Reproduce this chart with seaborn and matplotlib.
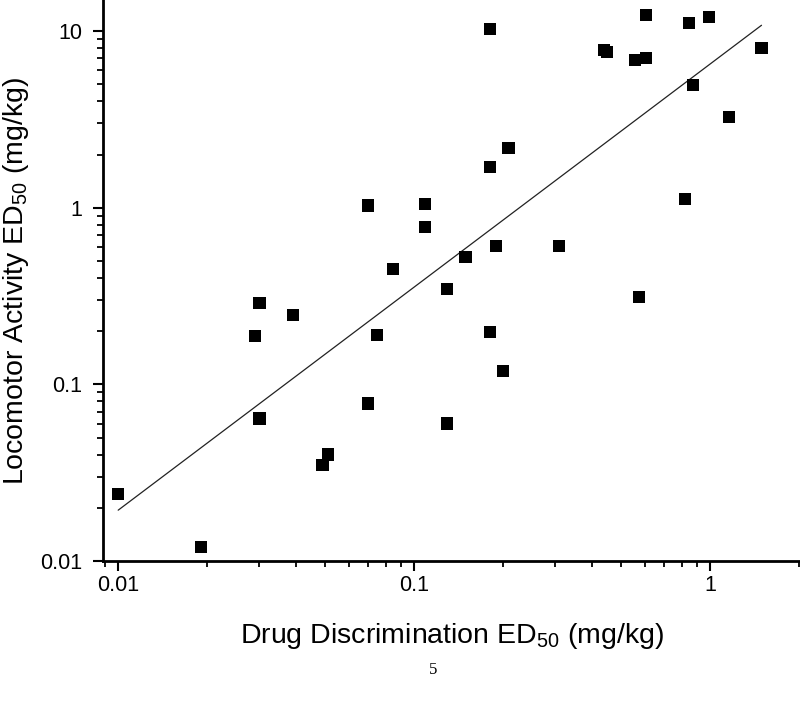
import matplotlib
matplotlib.use("Agg")
import matplotlib.pyplot as plt
import numpy as np
import pandas as pd
import seaborn as sns
from matplotlib.ticker import LogLocator, FuncFormatter, NullFormatter

# ── Data (mg/kg) ────────────────────────────────────────────────────────
drug_discrimination = [
    0.010, 0.019, 0.029, 0.030, 0.030, 0.039, 0.049, 0.051, 0.070, 0.070,
    0.075, 0.085, 0.109, 0.109, 0.129, 0.129, 0.149, 0.180, 0.180, 0.180,
    0.189, 0.199, 0.208, 0.309, 0.438, 0.448, 0.557, 0.574, 0.607, 0.607,
    0.820, 0.847, 0.873, 0.989, 1.156, 1.490,
]
locomotor_activity = [
    0.024, 0.012, 0.188, 0.288, 0.064, 0.247, 0.035, 0.040, 0.078, 1.03,
    0.190, 0.449, 1.05, 0.776, 0.060, 0.346, 0.525, 10.25, 1.70, 0.198,
    0.607, 0.119, 2.17, 0.607, 7.80, 7.60, 6.84, 0.312, 12.3, 7.03,
    1.12, 11.09, 4.94, 11.99, 3.26, 8.0,
]

x_ticks = [0.01, 0.1, 1]
y_ticks = [0.01, 0.1, 1, 10]

df = pd.DataFrame({"dd": drug_discrimination, "la": locomotor_activity})

sns.set_theme(style="ticks")
plt.rcParams["font.family"] = ["Liberation Sans", "DejaVu Sans"]
plt.rcParams["mathtext.fontset"] = "custom"
plt.rcParams["mathtext.rm"] = "Liberation Sans"
plt.rcParams["mathtext.default"] = "regular"

fig = plt.figure(figsize=(8, 7.02), dpi=100)
ax = fig.add_axes([0.129, 0.2009, 0.871, 0.7991])

sns.scatterplot(data=df, x="dd", y="la", marker="s", s=78, color="black",
                edgecolor="none", linewidth=0, ax=ax, zorder=3)

# log-log linear fit, drawn across the data range
slope, intercept = np.polyfit(np.log10(df["dd"]), np.log10(df["la"]), 1)
fit_x = np.array([df["dd"].min(), df["dd"].max()])
fit_y = 10 ** (intercept + slope * np.log10(fit_x))
sns.lineplot(x=fit_x, y=fit_y, color="#222222", linewidth=0.9, ax=ax)

ax.set_xscale("log")
ax.set_yscale("log")
ax.set_xlim(0.0089, 2.01)
ax.set_ylim(0.01, 15)

fmt = FuncFormatter(lambda v, _: f"{v:g}")
ax.xaxis.set_major_locator(LogLocator(base=10))
ax.yaxis.set_major_locator(LogLocator(base=10))
ax.xaxis.set_minor_locator(LogLocator(base=10, subs=np.arange(2, 10)))
ax.yaxis.set_minor_locator(LogLocator(base=10, subs=np.arange(2, 10)))
ax.set_xticks(x_ticks)
ax.set_yticks(y_ticks)
ax.xaxis.set_major_formatter(fmt)
ax.yaxis.set_major_formatter(fmt)
ax.xaxis.set_minor_formatter(NullFormatter())
ax.yaxis.set_minor_formatter(NullFormatter())

ax.tick_params(which="major", direction="out", length=7, width=1.5,
               labelsize=15.5, color="black", labelcolor="black")
ax.tick_params(axis="x", which="major", pad=3)
ax.tick_params(axis="y", which="major", pad=8)
ax.tick_params(which="minor", direction="out", length=4, width=1.3, color="black")

for side in ["left", "bottom"]:
    ax.spines[side].set_linewidth(2)
    ax.spines[side].set_color("black")
sns.despine(ax=ax)

ax.set_xlabel("Drug Discrimination ED$_{50}$ (mg/kg)", fontsize=20.5, labelpad=18)
ax.set_ylabel("Locomotor Activity ED$_{50}$ (mg/kg)", fontsize=20.5)
ax.yaxis.set_label_coords(-0.104, 0.5)
ax.xaxis.label.set_color("black")
ax.yaxis.label.set_color("black")

# page number from the source document
fig.text(0.541, 0.046, "5", family="Liberation Serif", fontsize=12,
         ha="center", va="center", color="black")

fig.savefig("out.png", dpi=100)
